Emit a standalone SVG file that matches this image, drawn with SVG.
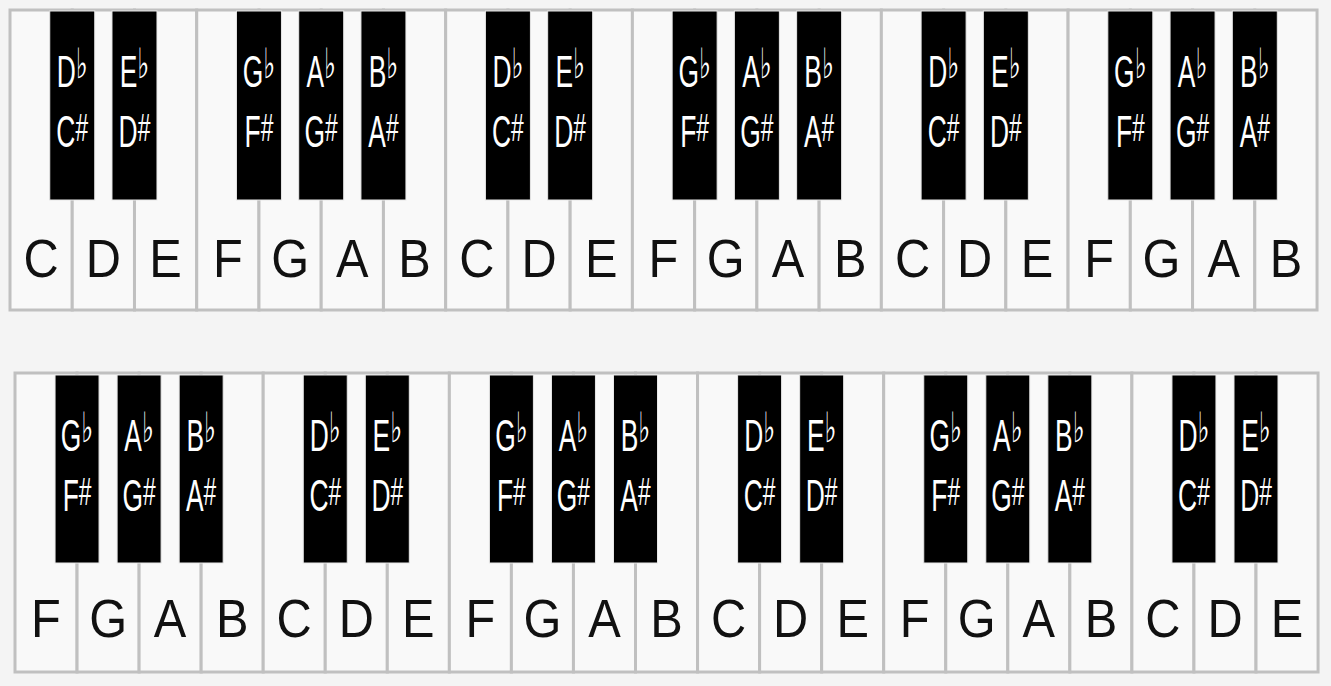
<svg xmlns="http://www.w3.org/2000/svg" width="1331" height="686" viewBox="0 0 1331 686">
<style>
.wk{fill:#f9f9f9;stroke:#c0c0c0;stroke-width:3}
.bk{fill:#000;stroke:#e8e8e8;stroke-width:1}
.wl{font-family:"Liberation Sans",Arial,sans-serif;font-size:53px;fill:#111;text-anchor:middle}
.bl{font-family:"Liberation Sans",Arial,"DejaVu Sans",sans-serif;font-size:44px;fill:#fff;text-anchor:middle}
.fl{font-family:"DejaVu Sans",sans-serif;font-size:42px}
.sh{font-size:38px}
</style>
<rect x="0" y="0" width="1331" height="686" fill="#f4f4f4"/>
<g id="row1-white">
<g id="w1-C1"><rect class="wk" x="10" y="10" width="62.24" height="300"/><text class="wl" transform="translate(41.1,277) scale(0.92,1)">C</text></g>
<g id="w1-D1"><rect class="wk" x="72.24" y="10" width="62.24" height="300"/><text class="wl" transform="translate(103.4,277) scale(0.92,1)">D</text></g>
<g id="w1-E1"><rect class="wk" x="134.48" y="10" width="62.24" height="300"/><text class="wl" transform="translate(165.6,277) scale(0.92,1)">E</text></g>
<g id="w1-F1"><rect class="wk" x="196.72" y="10" width="62.24" height="300"/><text class="wl" transform="translate(227.8,277) scale(0.92,1)">F</text></g>
<g id="w1-G1"><rect class="wk" x="258.96" y="10" width="62.24" height="300"/><text class="wl" transform="translate(290.1,277) scale(0.92,1)">G</text></g>
<g id="w1-A1"><rect class="wk" x="321.2" y="10" width="62.24" height="300"/><text class="wl" transform="translate(352.3,277) scale(0.92,1)">A</text></g>
<g id="w1-B1"><rect class="wk" x="383.44" y="10" width="62.24" height="300"/><text class="wl" transform="translate(414.6,277) scale(0.92,1)">B</text></g>
<g id="w1-C2"><rect class="wk" x="445.68" y="10" width="62.24" height="300"/><text class="wl" transform="translate(476.8,277) scale(0.92,1)">C</text></g>
<g id="w1-D2"><rect class="wk" x="507.92" y="10" width="62.24" height="300"/><text class="wl" transform="translate(539.0,277) scale(0.92,1)">D</text></g>
<g id="w1-E2"><rect class="wk" x="570.16" y="10" width="62.24" height="300"/><text class="wl" transform="translate(601.3,277) scale(0.92,1)">E</text></g>
<g id="w1-F2"><rect class="wk" x="632.4" y="10" width="62.24" height="300"/><text class="wl" transform="translate(663.5,277) scale(0.92,1)">F</text></g>
<g id="w1-G2"><rect class="wk" x="694.64" y="10" width="62.24" height="300"/><text class="wl" transform="translate(725.8,277) scale(0.92,1)">G</text></g>
<g id="w1-A2"><rect class="wk" x="756.88" y="10" width="62.24" height="300"/><text class="wl" transform="translate(788.0,277) scale(0.92,1)">A</text></g>
<g id="w1-B2"><rect class="wk" x="819.12" y="10" width="62.24" height="300"/><text class="wl" transform="translate(850.2,277) scale(0.92,1)">B</text></g>
<g id="w1-C3"><rect class="wk" x="881.36" y="10" width="62.24" height="300"/><text class="wl" transform="translate(912.5,277) scale(0.92,1)">C</text></g>
<g id="w1-D3"><rect class="wk" x="943.6" y="10" width="62.24" height="300"/><text class="wl" transform="translate(974.7,277) scale(0.92,1)">D</text></g>
<g id="w1-E3"><rect class="wk" x="1005.84" y="10" width="62.24" height="300"/><text class="wl" transform="translate(1037.0,277) scale(0.92,1)">E</text></g>
<g id="w1-F3"><rect class="wk" x="1068.08" y="10" width="62.24" height="300"/><text class="wl" transform="translate(1099.2,277) scale(0.92,1)">F</text></g>
<g id="w1-G3"><rect class="wk" x="1130.32" y="10" width="62.24" height="300"/><text class="wl" transform="translate(1161.4,277) scale(0.92,1)">G</text></g>
<g id="w1-A3"><rect class="wk" x="1192.56" y="10" width="62.24" height="300"/><text class="wl" transform="translate(1223.7,277) scale(0.92,1)">A</text></g>
<g id="w1-B3"><rect class="wk" x="1254.8" y="10" width="62.24" height="300"/><text class="wl" transform="translate(1285.9,277) scale(0.92,1)">B</text></g>
</g>
<g id="row1-black">
<g id="b1-Cs1"><rect class="bk" x="49.74" y="11" width="45" height="189"/><text class="bl" transform="translate(72.24,87) scale(0.6,1)">D<tspan class="fl" dy="-9">♭</tspan></text><text class="bl" transform="translate(72.24,147) scale(0.6,1)">C<tspan class="sh" dy="-6">#</tspan></text></g>
<g id="b1-Ds1"><rect class="bk" x="111.98" y="11" width="45" height="189"/><text class="bl" transform="translate(134.48,87) scale(0.6,1)">E<tspan class="fl" dy="-9">♭</tspan></text><text class="bl" transform="translate(134.48,147) scale(0.6,1)">D<tspan class="sh" dy="-6">#</tspan></text></g>
<g id="b1-Fs1"><rect class="bk" x="236.46" y="11" width="45" height="189"/><text class="bl" transform="translate(258.96,87) scale(0.6,1)">G<tspan class="fl" dy="-9">♭</tspan></text><text class="bl" transform="translate(258.96,147) scale(0.6,1)">F<tspan class="sh" dy="-6">#</tspan></text></g>
<g id="b1-Gs1"><rect class="bk" x="298.7" y="11" width="45" height="189"/><text class="bl" transform="translate(321.2,87) scale(0.6,1)">A<tspan class="fl" dy="-9">♭</tspan></text><text class="bl" transform="translate(321.2,147) scale(0.6,1)">G<tspan class="sh" dy="-6">#</tspan></text></g>
<g id="b1-As1"><rect class="bk" x="360.94" y="11" width="45" height="189"/><text class="bl" transform="translate(383.44,87) scale(0.6,1)">B<tspan class="fl" dy="-9">♭</tspan></text><text class="bl" transform="translate(383.44,147) scale(0.6,1)">A<tspan class="sh" dy="-6">#</tspan></text></g>
<g id="b1-Cs2"><rect class="bk" x="485.42" y="11" width="45" height="189"/><text class="bl" transform="translate(507.92,87) scale(0.6,1)">D<tspan class="fl" dy="-9">♭</tspan></text><text class="bl" transform="translate(507.92,147) scale(0.6,1)">C<tspan class="sh" dy="-6">#</tspan></text></g>
<g id="b1-Ds2"><rect class="bk" x="547.66" y="11" width="45" height="189"/><text class="bl" transform="translate(570.16,87) scale(0.6,1)">E<tspan class="fl" dy="-9">♭</tspan></text><text class="bl" transform="translate(570.16,147) scale(0.6,1)">D<tspan class="sh" dy="-6">#</tspan></text></g>
<g id="b1-Fs2"><rect class="bk" x="672.14" y="11" width="45" height="189"/><text class="bl" transform="translate(694.64,87) scale(0.6,1)">G<tspan class="fl" dy="-9">♭</tspan></text><text class="bl" transform="translate(694.64,147) scale(0.6,1)">F<tspan class="sh" dy="-6">#</tspan></text></g>
<g id="b1-Gs2"><rect class="bk" x="734.38" y="11" width="45" height="189"/><text class="bl" transform="translate(756.88,87) scale(0.6,1)">A<tspan class="fl" dy="-9">♭</tspan></text><text class="bl" transform="translate(756.88,147) scale(0.6,1)">G<tspan class="sh" dy="-6">#</tspan></text></g>
<g id="b1-As2"><rect class="bk" x="796.62" y="11" width="45" height="189"/><text class="bl" transform="translate(819.12,87) scale(0.6,1)">B<tspan class="fl" dy="-9">♭</tspan></text><text class="bl" transform="translate(819.12,147) scale(0.6,1)">A<tspan class="sh" dy="-6">#</tspan></text></g>
<g id="b1-Cs3"><rect class="bk" x="921.1" y="11" width="45" height="189"/><text class="bl" transform="translate(943.6,87) scale(0.6,1)">D<tspan class="fl" dy="-9">♭</tspan></text><text class="bl" transform="translate(943.6,147) scale(0.6,1)">C<tspan class="sh" dy="-6">#</tspan></text></g>
<g id="b1-Ds3"><rect class="bk" x="983.34" y="11" width="45" height="189"/><text class="bl" transform="translate(1005.84,87) scale(0.6,1)">E<tspan class="fl" dy="-9">♭</tspan></text><text class="bl" transform="translate(1005.84,147) scale(0.6,1)">D<tspan class="sh" dy="-6">#</tspan></text></g>
<g id="b1-Fs3"><rect class="bk" x="1107.82" y="11" width="45" height="189"/><text class="bl" transform="translate(1130.32,87) scale(0.6,1)">G<tspan class="fl" dy="-9">♭</tspan></text><text class="bl" transform="translate(1130.32,147) scale(0.6,1)">F<tspan class="sh" dy="-6">#</tspan></text></g>
<g id="b1-Gs3"><rect class="bk" x="1170.06" y="11" width="45" height="189"/><text class="bl" transform="translate(1192.56,87) scale(0.6,1)">A<tspan class="fl" dy="-9">♭</tspan></text><text class="bl" transform="translate(1192.56,147) scale(0.6,1)">G<tspan class="sh" dy="-6">#</tspan></text></g>
<g id="b1-As3"><rect class="bk" x="1232.3" y="11" width="45" height="189"/><text class="bl" transform="translate(1254.8,87) scale(0.6,1)">B<tspan class="fl" dy="-9">♭</tspan></text><text class="bl" transform="translate(1254.8,147) scale(0.6,1)">A<tspan class="sh" dy="-6">#</tspan></text></g>
</g>
<g id="row2-white">
<g id="w2-F1"><rect class="wk" x="15" y="373" width="62.05" height="299"/><text class="wl" transform="translate(46.0,637) scale(0.92,1)">F</text></g>
<g id="w2-G1"><rect class="wk" x="77.05" y="373" width="62.05" height="299"/><text class="wl" transform="translate(108.1,637) scale(0.92,1)">G</text></g>
<g id="w2-A1"><rect class="wk" x="139.1" y="373" width="62.05" height="299"/><text class="wl" transform="translate(170.1,637) scale(0.92,1)">A</text></g>
<g id="w2-B1"><rect class="wk" x="201.15" y="373" width="62.05" height="299"/><text class="wl" transform="translate(232.2,637) scale(0.92,1)">B</text></g>
<g id="w2-C1"><rect class="wk" x="263.2" y="373" width="62.05" height="299"/><text class="wl" transform="translate(294.2,637) scale(0.92,1)">C</text></g>
<g id="w2-D1"><rect class="wk" x="325.25" y="373" width="62.05" height="299"/><text class="wl" transform="translate(356.3,637) scale(0.92,1)">D</text></g>
<g id="w2-E1"><rect class="wk" x="387.3" y="373" width="62.05" height="299"/><text class="wl" transform="translate(418.3,637) scale(0.92,1)">E</text></g>
<g id="w2-F2"><rect class="wk" x="449.35" y="373" width="62.05" height="299"/><text class="wl" transform="translate(480.4,637) scale(0.92,1)">F</text></g>
<g id="w2-G2"><rect class="wk" x="511.4" y="373" width="62.05" height="299"/><text class="wl" transform="translate(542.4,637) scale(0.92,1)">G</text></g>
<g id="w2-A2"><rect class="wk" x="573.45" y="373" width="62.05" height="299"/><text class="wl" transform="translate(604.5,637) scale(0.92,1)">A</text></g>
<g id="w2-B2"><rect class="wk" x="635.5" y="373" width="62.05" height="299"/><text class="wl" transform="translate(666.5,637) scale(0.92,1)">B</text></g>
<g id="w2-C2"><rect class="wk" x="697.55" y="373" width="62.05" height="299"/><text class="wl" transform="translate(728.6,637) scale(0.92,1)">C</text></g>
<g id="w2-D2"><rect class="wk" x="759.6" y="373" width="62.05" height="299"/><text class="wl" transform="translate(790.6,637) scale(0.92,1)">D</text></g>
<g id="w2-E2"><rect class="wk" x="821.65" y="373" width="62.05" height="299"/><text class="wl" transform="translate(852.7,637) scale(0.92,1)">E</text></g>
<g id="w2-F3"><rect class="wk" x="883.7" y="373" width="62.05" height="299"/><text class="wl" transform="translate(914.7,637) scale(0.92,1)">F</text></g>
<g id="w2-G3"><rect class="wk" x="945.75" y="373" width="62.05" height="299"/><text class="wl" transform="translate(976.8,637) scale(0.92,1)">G</text></g>
<g id="w2-A3"><rect class="wk" x="1007.8" y="373" width="62.05" height="299"/><text class="wl" transform="translate(1038.8,637) scale(0.92,1)">A</text></g>
<g id="w2-B3"><rect class="wk" x="1069.85" y="373" width="62.05" height="299"/><text class="wl" transform="translate(1100.9,637) scale(0.92,1)">B</text></g>
<g id="w2-C3"><rect class="wk" x="1131.9" y="373" width="62.05" height="299"/><text class="wl" transform="translate(1162.9,637) scale(0.92,1)">C</text></g>
<g id="w2-D3"><rect class="wk" x="1193.95" y="373" width="62.05" height="299"/><text class="wl" transform="translate(1225.0,637) scale(0.92,1)">D</text></g>
<g id="w2-E3"><rect class="wk" x="1256" y="373" width="62.05" height="299"/><text class="wl" transform="translate(1287.1,637) scale(0.92,1)">E</text></g>
</g>
<g id="row2-black">
<g id="b2-Fs1"><rect class="bk" x="55.05" y="375" width="44" height="188"/><text class="bl" transform="translate(77.05,451) scale(0.6,1)">G<tspan class="fl" dy="-9">♭</tspan></text><text class="bl" transform="translate(77.05,511) scale(0.6,1)">F<tspan class="sh" dy="-6">#</tspan></text></g>
<g id="b2-Gs1"><rect class="bk" x="117.1" y="375" width="44" height="188"/><text class="bl" transform="translate(139.1,451) scale(0.6,1)">A<tspan class="fl" dy="-9">♭</tspan></text><text class="bl" transform="translate(139.1,511) scale(0.6,1)">G<tspan class="sh" dy="-6">#</tspan></text></g>
<g id="b2-As1"><rect class="bk" x="179.15" y="375" width="44" height="188"/><text class="bl" transform="translate(201.15,451) scale(0.6,1)">B<tspan class="fl" dy="-9">♭</tspan></text><text class="bl" transform="translate(201.15,511) scale(0.6,1)">A<tspan class="sh" dy="-6">#</tspan></text></g>
<g id="b2-Cs1"><rect class="bk" x="303.25" y="375" width="44" height="188"/><text class="bl" transform="translate(325.25,451) scale(0.6,1)">D<tspan class="fl" dy="-9">♭</tspan></text><text class="bl" transform="translate(325.25,511) scale(0.6,1)">C<tspan class="sh" dy="-6">#</tspan></text></g>
<g id="b2-Ds1"><rect class="bk" x="365.3" y="375" width="44" height="188"/><text class="bl" transform="translate(387.3,451) scale(0.6,1)">E<tspan class="fl" dy="-9">♭</tspan></text><text class="bl" transform="translate(387.3,511) scale(0.6,1)">D<tspan class="sh" dy="-6">#</tspan></text></g>
<g id="b2-Fs2"><rect class="bk" x="489.4" y="375" width="44" height="188"/><text class="bl" transform="translate(511.4,451) scale(0.6,1)">G<tspan class="fl" dy="-9">♭</tspan></text><text class="bl" transform="translate(511.4,511) scale(0.6,1)">F<tspan class="sh" dy="-6">#</tspan></text></g>
<g id="b2-Gs2"><rect class="bk" x="551.45" y="375" width="44" height="188"/><text class="bl" transform="translate(573.45,451) scale(0.6,1)">A<tspan class="fl" dy="-9">♭</tspan></text><text class="bl" transform="translate(573.45,511) scale(0.6,1)">G<tspan class="sh" dy="-6">#</tspan></text></g>
<g id="b2-As2"><rect class="bk" x="613.5" y="375" width="44" height="188"/><text class="bl" transform="translate(635.5,451) scale(0.6,1)">B<tspan class="fl" dy="-9">♭</tspan></text><text class="bl" transform="translate(635.5,511) scale(0.6,1)">A<tspan class="sh" dy="-6">#</tspan></text></g>
<g id="b2-Cs2"><rect class="bk" x="737.6" y="375" width="44" height="188"/><text class="bl" transform="translate(759.6,451) scale(0.6,1)">D<tspan class="fl" dy="-9">♭</tspan></text><text class="bl" transform="translate(759.6,511) scale(0.6,1)">C<tspan class="sh" dy="-6">#</tspan></text></g>
<g id="b2-Ds2"><rect class="bk" x="799.65" y="375" width="44" height="188"/><text class="bl" transform="translate(821.65,451) scale(0.6,1)">E<tspan class="fl" dy="-9">♭</tspan></text><text class="bl" transform="translate(821.65,511) scale(0.6,1)">D<tspan class="sh" dy="-6">#</tspan></text></g>
<g id="b2-Fs3"><rect class="bk" x="923.75" y="375" width="44" height="188"/><text class="bl" transform="translate(945.75,451) scale(0.6,1)">G<tspan class="fl" dy="-9">♭</tspan></text><text class="bl" transform="translate(945.75,511) scale(0.6,1)">F<tspan class="sh" dy="-6">#</tspan></text></g>
<g id="b2-Gs3"><rect class="bk" x="985.8" y="375" width="44" height="188"/><text class="bl" transform="translate(1007.8,451) scale(0.6,1)">A<tspan class="fl" dy="-9">♭</tspan></text><text class="bl" transform="translate(1007.8,511) scale(0.6,1)">G<tspan class="sh" dy="-6">#</tspan></text></g>
<g id="b2-As3"><rect class="bk" x="1047.85" y="375" width="44" height="188"/><text class="bl" transform="translate(1069.85,451) scale(0.6,1)">B<tspan class="fl" dy="-9">♭</tspan></text><text class="bl" transform="translate(1069.85,511) scale(0.6,1)">A<tspan class="sh" dy="-6">#</tspan></text></g>
<g id="b2-Cs3"><rect class="bk" x="1171.95" y="375" width="44" height="188"/><text class="bl" transform="translate(1193.95,451) scale(0.6,1)">D<tspan class="fl" dy="-9">♭</tspan></text><text class="bl" transform="translate(1193.95,511) scale(0.6,1)">C<tspan class="sh" dy="-6">#</tspan></text></g>
<g id="b2-Ds3"><rect class="bk" x="1234" y="375" width="44" height="188"/><text class="bl" transform="translate(1256,451) scale(0.6,1)">E<tspan class="fl" dy="-9">♭</tspan></text><text class="bl" transform="translate(1256,511) scale(0.6,1)">D<tspan class="sh" dy="-6">#</tspan></text></g>
</g>
<g id="connectors"/>
</svg>
